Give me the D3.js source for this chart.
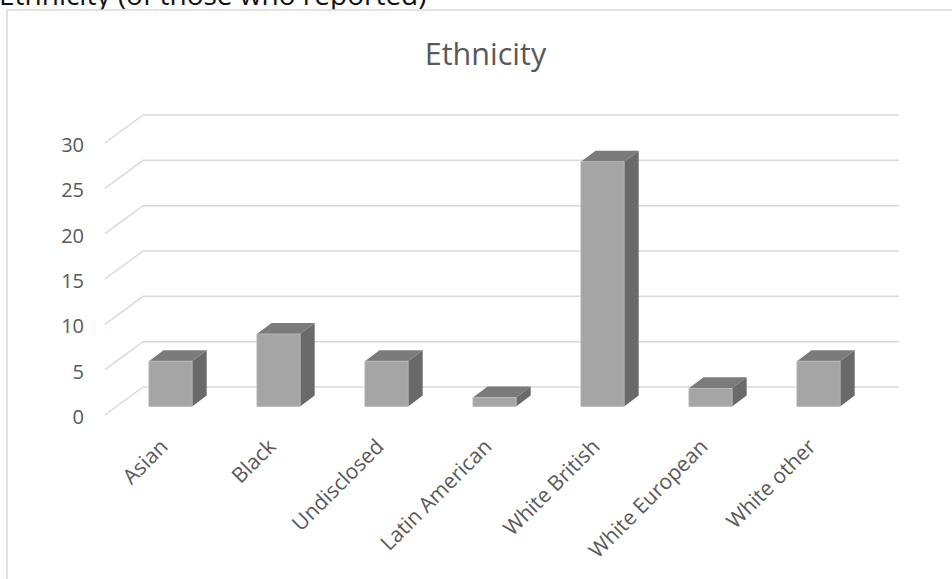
<!DOCTYPE html>
<html>
<head>
<meta charset="utf-8">
<script src="https://cdn.jsdelivr.net/npm/d3@7"></script>
<style>
  body { margin: 0; background: #fff; overflow: hidden; }
  svg text { font-family: "Open Sans", "Noto Sans", sans-serif; }
</style>
</head>
<body>
<div id="chart"></div>
<script>
var width = 952;
var height = 579;

var categories = ["Asian", "Black", "Undisclosed", "Latin American", "White British", "White European", "White other"];
var values = [5, 8, 5, 1, 27, 2, 5];
var yTicks = [0, 5, 10, 15, 20, 25, 30];

// 3d look: back wall is shifted right/up from the front edge
var depthX = 38, depthY = -28;
var colors = { front: "#a5a5a5", top: "#7b7b7b", side: "#6a6a6a", edge: "#bcbcbc", grid: "#d9d9d9", text: "#595959" };

var svg = d3.select("#chart")
    .append("svg")
    .attr("width", width)
    .attr("height", height);

// page heading, partly cut off above the chart
svg.append("text")
    .attr("x", -1)
    .attr("y", 5)
    .attr("font-size", 28)
    .attr("fill", "#111")
    .text("Ethnicity (of those who reported)");

// chart frame
svg.append("rect")
    .attr("x", 7)
    .attr("y", 10)
    .attr("width", 980)
    .attr("height", 600)
    .attr("fill", "#fff")
    .attr("stroke", colors.grid)
    .attr("stroke-width", 1.5);

svg.append("text")
    .attr("x", 485.5)
    .attr("y", 65)
    .attr("text-anchor", "middle")
    .attr("font-size", 30.5)
    .attr("fill", colors.text)
    .text("Ethnicity");

// y scale on the back wall, yFront on the front edge
var y = d3.scaleLinear().domain([0, 30]).range([387, 115]);
var yFront = d3.scaleLinear().domain([0, 30]).range([387 - depthY, 115 - depthY]);
var x = d3.scaleBand().domain(categories).range([105, 861]);

/**
 * Gridlines: short diagonal on the side wall then straight along the back wall.
 */
svg.append("g")
    .selectAll("polyline")
    .data(yTicks)
    .enter()
    .append("polyline")
    .attr("points", function (d) {
        return [105, yFront(d), 105 + depthX, y(d), 899, y(d)].join(" ");
    })
    .attr("fill", "none")
    .attr("stroke", colors.grid)
    .attr("stroke-width", 1.5);

var yAxis = svg.append("g")
    .attr("transform", "translate(84,2)")
    .call(d3.axisLeft(yFront).tickValues(yTicks).tickSize(0).tickPadding(0));
yAxis.select(".domain").remove();
yAxis.selectAll("text")
    .attr("font-size", 20)
    .attr("font-family", "Open Sans")
    .attr("fill", colors.text);

/**
 * Bars, each one a front, a top and a side face.
 */
var barW = x.bandwidth() * 0.4;
var shiftX = 11.5, shiftY = -8.5;  // bar sits a bit behind the front edge
var sideX = 14.6, sideY = -11;

var bars = svg.append("g")
    .selectAll("g")
    .data(values)
    .enter()
    .append("g");

function barLeft(d, i) {
    return x(categories[i]) + (x.bandwidth() - barW) / 2 + shiftX;
}
function barTop(d) {
    return yFront(d) + shiftY;
}
var barBase = yFront(0) + shiftY;

bars.append("polygon")
    .attr("points", function (d, i) {
        var l = barLeft(d, i), t = barTop(d);
        return [l, t, l + sideX, t + sideY, l + barW + sideX, t + sideY, l + barW, t].join(" ");
    })
    .attr("fill", colors.top);

bars.append("polygon")
    .attr("points", function (d, i) {
        var r = barLeft(d, i) + barW, t = barTop(d);
        return [r, t, r + sideX, t + sideY, r + sideX, barBase + sideY, r, barBase].join(" ");
    })
    .attr("fill", colors.side);

bars.append("rect")
    .attr("x", barLeft)
    .attr("y", barTop)
    .attr("width", barW)
    .attr("height", function (d) {
        return barBase - barTop(d);
    })
    .attr("fill", colors.front)
    .attr("stroke", colors.edge)
    .attr("stroke-width", 0.8);

// category labels, rotated
var xAxis = svg.append("g")
    .attr("transform", "translate(0,448)")
    .call(d3.axisBottom(x).tickSize(0));
xAxis.select(".domain").remove();
xAxis.selectAll("text")
    .attr("x", 0)
    .attr("y", 0)
    .attr("dy", 0)
    .attr("transform", "translate(10,0) rotate(-45)")
    .attr("text-anchor", "end")
    .attr("font-size", 21)
    .attr("font-family", "Open Sans")
    .attr("fill", colors.text);
</script>
</body>
</html>
